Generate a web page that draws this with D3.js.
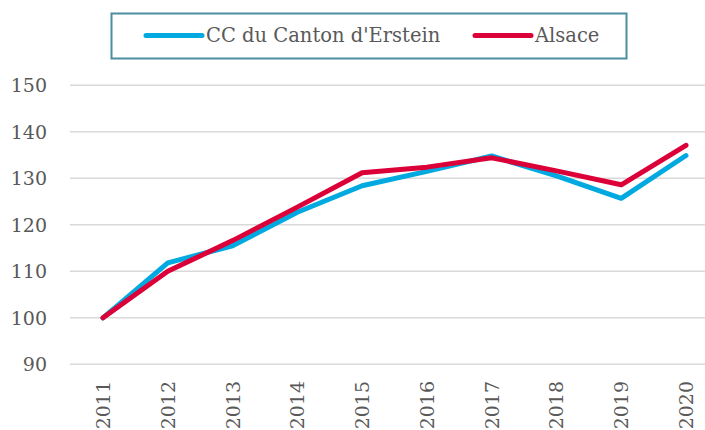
<!DOCTYPE html>
<html>
<head>
<meta charset="utf-8">
<script src="https://cdn.jsdelivr.net/npm/d3@7"></script>
<style>
  body { margin: 0; background: #fff; }
  text { font-family: "DejaVu Serif", serif; fill: #595959; }
</style>
</head>
<body>
<div id="chart"></div>
<script>
// data
var years = ["2011","2012","2013","2014","2015","2016","2017","2018","2019","2020"];
var erstein = [100, 111.8, 115.5, 122.7, 128.4, 131.5, 134.8, 130.5, 125.7, 134.9];
var alsace  = [100, 110.0, 116.6, 123.8, 131.2, 132.4, 134.4, 131.6, 128.6, 137.1];
var yTicks = [90, 100, 110, 120, 130, 140, 150];
var seriesNames = ["CC du Canton d'Erstein", "Alsace"];
var seriesColors = ["#00a9e0", "#dc0039"];

var width = 705, height = 430;

var svg = d3.select("#chart").append("svg")
    .attr("width", width)
    .attr("height", height);

var x = d3.scalePoint()
    .domain(years)
    .range([103, 686]);

var y = d3.scaleLinear()
    .domain([90, 150])
    .range([364.3, 85.3]);

// gridlines
svg.append("g").selectAll("line").data(yTicks).enter()
  .append("line")
    .attr("x1", 70)
    .attr("x2", width)
    .attr("y1", function(d) { return y(d); })
    .attr("y2", function(d) { return y(d); })
    .attr("stroke", "#d9d9d9")
    .attr("stroke-width", 1.5);

// y labels
svg.append("g").selectAll("text").data(yTicks).enter()
  .append("text")
    .attr("x", 47)
    .attr("y", function(d) { return y(d); })
    .attr("text-anchor", "end")
    .attr("dominant-baseline", "central")
    .style("font-size", "19px")
    .text(function(d) { return d; });

// x labels, rotated
svg.append("g").selectAll("text").data(years).enter()
  .append("text")
    .attr("transform", function(d) { return "translate(" + x(d) + ",381) rotate(-90)"; })
    .attr("text-anchor", "end")
    .attr("dominant-baseline", "central")
    .style("font-size", "19px")
    .text(function(d) { return d; });

var line = d3.line()
    .x(function(d, i) { return x(years[i]); })
    .y(function(d) { return y(d); });

[erstein, alsace].forEach(function(s, i) {
  svg.append("path")
    .datum(s)
    .attr("d", line)
    .attr("fill", "none")
    .attr("stroke", seriesColors[i])
    .attr("stroke-width", 5)
    .attr("stroke-linecap", "round")
    .attr("stroke-linejoin", "round");
});

// legend
var legend = svg.append("g");
legend.append("rect")
    .attr("x", 111.5)
    .attr("y", 13.5)
    .attr("width", 515)
    .attr("height", 45)
    .attr("fill", "#fff")
    .attr("stroke", "#4a8ea0")
    .attr("stroke-width", 2);

var legX = [146, 475];
seriesNames.forEach(function(name, i) {
  legend.append("line")
    .attr("x1", legX[i])
    .attr("x2", legX[i] + 56)
    .attr("y1", 35.5)
    .attr("y2", 35.5)
    .attr("stroke", seriesColors[i])
    .attr("stroke-width", 5)
    .attr("stroke-linecap", "round");
  legend.append("text")
    .attr("x", legX[i] + 60)
    .attr("y", 35.5)
    .attr("dominant-baseline", "central")
    .style("font-size", "19.5px")
    .text(name);
});
</script>
</body>
</html>
